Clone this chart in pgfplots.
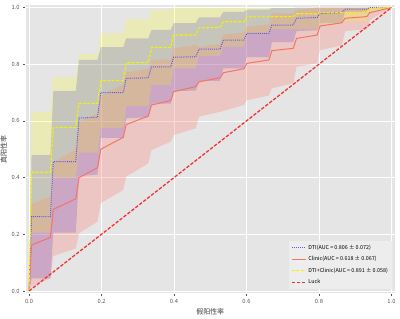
\documentclass[border=0pt]{standalone}
\usepackage{pgfplots}
\pgfplotsset{compat=1.18}
\usepackage{pgfplotstable}
\usepgfplotslibrary{fillbetween}
\usepackage{fontspec}
\setmainfont{Noto Sans CJK SC}
\definecolor{bgc}{HTML}{E5E5E5}
\definecolor{tickc}{HTML}{555555}
\definecolor{salm}{HTML}{FA8072}
\definecolor{clinline}{HTML}{F47466}
\definecolor{dtiline}{HTML}{5A5AF2}
\definecolor{yel}{HTML}{FFFF00}
\definecolor{yelline}{HTML}{F2F200}
\definecolor{luck}{HTML}{F03434}

\pgfplotstableread{
x m u l
0 0 0 0
0.007 0.262 0.480 0.044
0.059 0.262 0.480 0.044
0.067 0.456 0.706 0.206
0.129 0.456 0.706 0.206
0.138 0.610 0.815 0.405
0.189 0.613 0.815 0.411
0.198 0.700 0.860 0.540
0.260 0.700 0.860 0.540
0.268 0.750 0.891 0.609
0.329 0.752 0.891 0.613
0.338 0.791 0.921 0.661
0.391 0.791 0.921 0.661
0.399 0.825 0.945 0.705
0.460 0.826 0.945 0.707
0.469 0.853 0.965 0.741
0.527 0.853 0.965 0.741
0.536 0.885 0.985 0.785
0.593 0.885 0.985 0.785
0.601 0.909 0.993 0.825
0.662 0.909 0.993 0.825
0.670 0.938 0.998 0.878
0.729 0.938 0.998 0.878
0.738 0.962 1.000 0.917
0.795 0.965 1.000 0.920
0.803 0.979 1.000 0.944
0.863 0.982 1.000 0.947
0.872 0.994 1.000 0.984
0.932 0.994 1.000 0.984
0.940 1.000 1.000 1.000
1.000 1.000 1.000 1.000
}\dti

\pgfplotstableread{
x m u l
0 0 0 0
0.007 0.162 0.307 0.017
0.059 0.189 0.334 0.044
0.067 0.288 0.453 0.123
0.129 0.325 0.500 0.150
0.138 0.400 0.597 0.203
0.189 0.435 0.625 0.245
0.198 0.500 0.690 0.310
0.260 0.542 0.728 0.356
0.268 0.587 0.771 0.403
0.329 0.617 0.784 0.450
0.338 0.656 0.815 0.497
0.391 0.672 0.817 0.527
0.399 0.703 0.856 0.550
0.460 0.721 0.868 0.574
0.469 0.738 0.861 0.615
0.527 0.752 0.872 0.632
0.536 0.770 0.905 0.635
0.593 0.784 0.912 0.656
0.601 0.803 0.933 0.673
0.662 0.815 0.940 0.690
0.670 0.848 0.981 0.715
0.729 0.856 0.979 0.733
0.738 0.891 0.991 0.791
0.795 0.903 1.000 0.803
0.803 0.935 1.000 0.850
0.863 0.946 1.000 0.866
0.872 0.962 1.000 0.917
0.932 0.968 1.000 0.923
0.940 0.982 1.000 0.955
1.000 1.000 1.000 1.000
}\clin

\pgfplotstableread{
x m u l
0 0 0 0
0.007 0.419 0.632 0.206
0.059 0.419 0.632 0.206
0.067 0.577 0.754 0.400
0.129 0.577 0.754 0.400
0.138 0.662 0.836 0.488
0.189 0.662 0.836 0.488
0.198 0.742 0.909 0.575
0.260 0.742 0.909 0.575
0.268 0.805 0.958 0.652
0.329 0.806 0.959 0.653
0.338 0.859 0.991 0.727
0.391 0.859 0.991 0.727
0.399 0.903 1.000 0.785
0.460 0.903 1.000 0.785
0.469 0.928 1.000 0.828
0.527 0.930 1.000 0.830
0.536 0.950 1.000 0.862
0.593 0.950 1.000 0.862
0.601 0.967 1.000 0.909
0.662 0.967 1.000 0.909
0.670 0.968 1.000 0.923
0.729 0.968 1.000 0.923
0.738 0.978 1.000 0.923
0.795 0.978 1.000 0.923
0.803 0.982 1.000 0.942
0.863 0.982 1.000 0.942
0.872 0.982 1.000 0.950
0.932 0.985 1.000 0.953
0.940 0.997 1.000 0.982
1.000 1.000 1.000 1.000
}\comb

\begin{document}
\begin{tikzpicture}
\begin{axis}[
  name=ax,
  scale only axis,
  width=369.7bp, height=289.1bp,
  xmin=-0.01, xmax=1.01, ymin=-0.01, ymax=1.01,
  xtick={0,0.2,0.4,0.6,0.8,1.0},
  ytick={0,0.2,0.4,0.6,0.8,1.0},
  /pgf/number format/.cd, fixed, fixed zerofill, precision=1, assume math mode=true,
  /pgfplots/.cd,
  axis background/.style={fill=bgc},
  grid=major,
  major grid style={white, line width=0.8bp},
  axis line style={white, line width=0.8bp},
  tick align=outside,
  major tick length=2.2bp,
  tick style={tickc, line width=0.5bp},
  tick pos=left,
  ticklabel style={font=\fontsize{5.8}{6}\selectfont, text=tickc},
  xticklabel style={yshift=0.5bp},
  xlabel={假阳性率},
  ylabel={真阳性率},
  xlabel style={font=\fontsize{7}{8}\selectfont, text=tickc!70!black, at={(axis description cs:0.5,-0.063)}, anchor=center},
  ylabel style={font=\fontsize{7}{8}\selectfont, text=tickc!70!black, at={(axis description cs:-0.059,0.5)}, anchor=center, rotate=0},
  legend cell align=left,
  legend style={at={(1,0)}, anchor=south east, xshift=-3bp, yshift=4.5bp,
    fill=bgc!70!white, draw=none, font=\fontsize{5.4}{6}\selectfont,
    row sep=1.6bp, inner xsep=2bp, inner ysep=2bp},
  legend image code/.code={\draw[#1] (0bp,0bp) -- (14bp,0bp);},
]
\addplot[name path=dU, draw=none, forget plot] table[x=x,y=u]{\dti};
\addplot[name path=dL, draw=none, forget plot] table[x=x,y=l]{\dti};
\addplot[fill=blue, fill opacity=0.2, draw=none, forget plot] fill between[of=dU and dL];
\addplot[name path=cU, draw=none, forget plot] table[x=x,y=u]{\clin};
\addplot[name path=cL, draw=none, forget plot] table[x=x,y=l]{\clin};
\addplot[fill=salm, fill opacity=0.3, draw=none, forget plot] fill between[of=cU and cL];
\addplot[name path=yU, draw=none, forget plot] table[x=x,y=u]{\comb};
\addplot[name path=yL, draw=none, forget plot] table[x=x,y=l]{\comb};
\addplot[fill=yel, fill opacity=0.2, draw=none, forget plot] fill between[of=yU and yL];

\addplot[draw=dtiline, line width=1bp, dash pattern=on 1bp off 1.1bp] table[x=x,y=m]{\dti};
\addlegendentry{DTI(AUC = 0.806 ± 0.072)}
\addplot[draw=clinline, line width=1bp] table[x=x,y=m]{\clin};
\addlegendentry{Clinic(AUC = 0.618 ± 0.067)}
\addplot[draw=yelline, line width=1.1bp, dash pattern=on 3bp off 1.4bp] table[x=x,y=m]{\comb};
\addlegendentry{DTI+Clinic(AUC = 0.891 ± 0.058)}
\addplot[draw=luck, line width=1.3bp, dash pattern=on 3.4bp off 1.6bp] coordinates {(0,0) (1,1)};
\addlegendentry{Luck}
\end{axis}
\pgfresetboundingbox
\path[use as bounding box] ([xshift=-25.4bp,yshift=-25.2bp]ax.south west) rectangle ([xshift=4.9bp,yshift=4.7bp]ax.north east);
\end{tikzpicture}
\end{document}
